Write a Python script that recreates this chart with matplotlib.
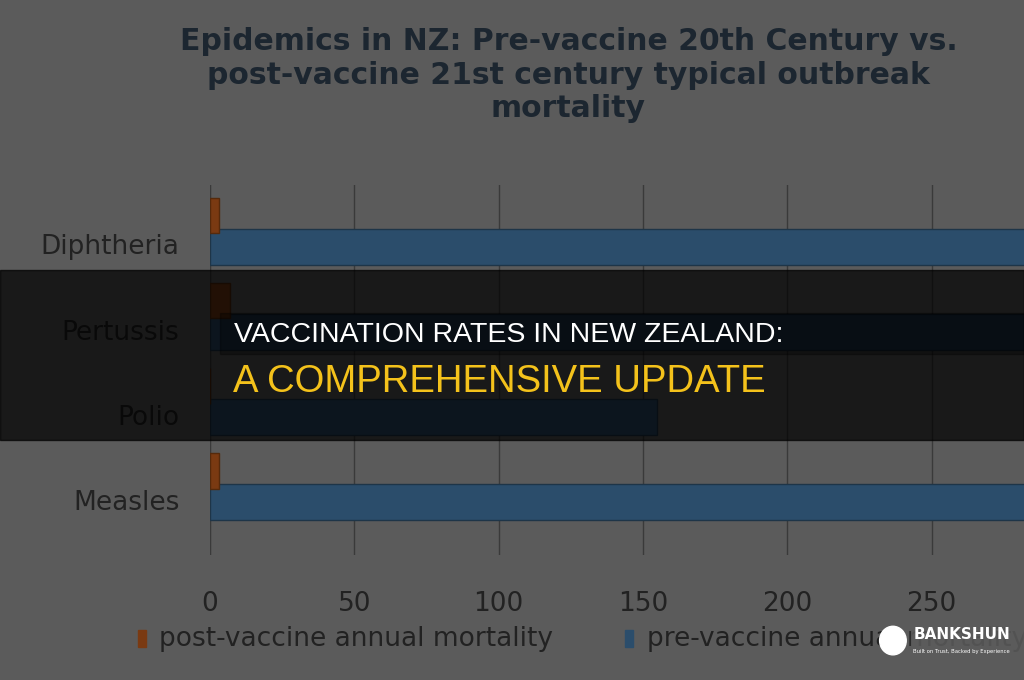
import matplotlib.pyplot as plt
from matplotlib.patches import Rectangle, Ellipse

diseases = ['Diphtheria', 'Pertussis', 'Polio', 'Measles']
post_vaccine = [3, 7, 0, 3]
pre_vaccine = [320, 300, 155, 330]
x_ticks = [0, 50, 100, 150, 200, 250]

bg = '#5b5b5b'
fig = plt.figure(figsize=(10.24, 6.8), dpi=100)
fig.patch.set_facecolor(bg)

ax = fig.add_axes([0.205, 0.184, 0.795, 0.544])
ax.set_facecolor(bg)
ys = range(len(diseases))
ax.barh([y - 0.18 for y in ys], pre_vaccine, height=0.42, align='edge',
        color='#2b4d6b', edgecolor='#1e3548', zorder=3)
ax.barh([y - 0.55 for y in ys], post_vaccine, height=0.42, align='edge',
        color='#7a3a12', edgecolor='#552a0c', zorder=3)
ax.set_ylim(3.65, -0.7)
ax.set_yticks(list(ys))
ax.set_yticklabels(diseases, fontsize=19, color='#222222')
ax.set_xlim(0, 282)
ax.set_xticks(x_ticks)
ax.set_xticklabels([str(t) for t in x_ticks], fontsize=19, color='#222222')
ax.tick_params(axis='x', length=0, pad=26)
ax.tick_params(axis='y', length=0, pad=22)
ax.grid(axis='x', color='#3a3a3a', lw=1, zorder=0)
for s in ax.spines.values():
    s.set_visible(False)
ax.axvline(0, color='#3a3a3a', lw=1.5)

fig.text(0.555, 0.96, 'Epidemics in NZ: Pre-vaccine 20th Century vs.\n'
         'post-vaccine 21st century typical outbreak\nmortality',
         ha='center', va='top', fontsize=21.5, fontweight='bold',
         color='#1c2630', linespacing=1.2)

# legend
fig.patches.append(Rectangle((0.135, 0.048), 0.008, 0.025, transform=fig.transFigure,
                             color='#7a3a12'))
fig.text(0.155, 0.06, 'post-vaccine annual mortality', fontsize=19,
         color='#222222', va='center')
fig.patches.append(Rectangle((0.61, 0.048), 0.008, 0.025, transform=fig.transFigure,
                             color='#2b4d6b'))
fig.text(0.632, 0.06, 'pre-vaccine annual mortality', fontsize=19,
         color='#222222', va='center')

# banner overlay
fig.patches.append(Rectangle((0, 0.353), 1, 0.25, transform=fig.transFigure,
                             color='#000000', alpha=0.72, zorder=10))
fig.patches.append(Rectangle((0.215, 0.48), 0.785, 0.06, transform=fig.transFigure,
                             color='#000000', alpha=0.3, zorder=10))
fig.text(0.229, 0.507, 'VACCINATION RATES IN NEW ZEALAND:', fontsize=20.5,
         color='white', va='center', family='Liberation Sans', zorder=11)
fig.text(0.228, 0.438, 'A COMPREHENSIVE UPDATE', fontsize=27.5,
         color='#f4c21b', va='center', family='Liberation Sans', zorder=11)

# logo
fig.patches.append(Rectangle((0.89, 0.025), 0.11, 0.06, transform=fig.transFigure,
                             color=bg, alpha=0.85, zorder=10))
fig.patches.append(Ellipse((0.872, 0.058), 0.026, 0.042, transform=fig.transFigure,
                           color='white', zorder=11))
fig.text(0.892, 0.06, 'BANKSHUN', fontsize=11, fontweight='bold', color='white', zorder=11)
fig.text(0.892, 0.04, 'Built on Trust, Backed by Experience', fontsize=3.8,
         color='white', zorder=11)

fig.savefig('out.png', dpi=100, facecolor=bg)
